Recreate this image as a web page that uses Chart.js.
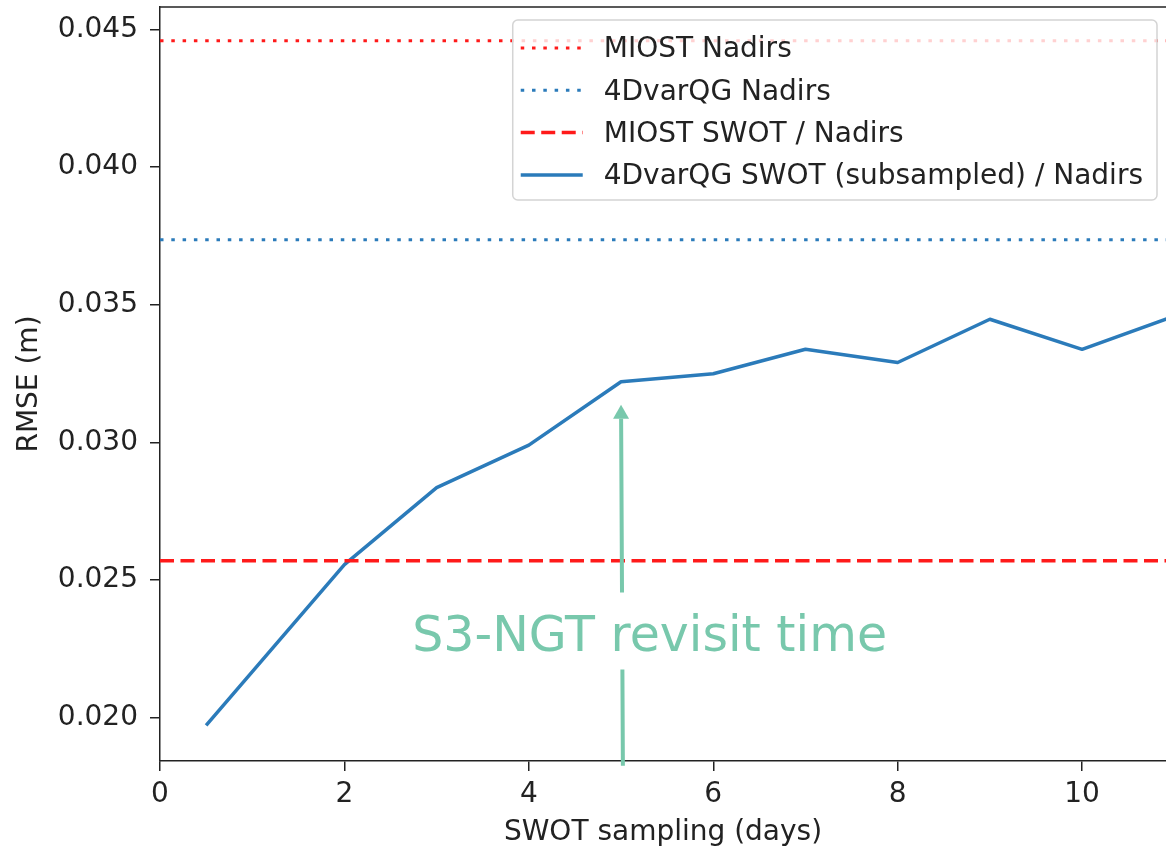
<!DOCTYPE html>
<html lang="en">
<head>
<meta charset="UTF-8">
<title>RMSE vs SWOT sampling</title>
<script src="https://cdn.jsdelivr.net/npm/chart.js"></script>
<style>
  body { margin: 0; background: #fff; }
  canvas { display: block; }
</style>
</head>
<body>
<canvas id="rmseChart" width="1166" height="853"></canvas>
<script>
// SWOT sampling period (days) and the 4DvarQG error for each run
const samplingDays = [0.5, 2, 3, 4, 5, 6, 7, 8, 9, 10, 11];
const rmse4dvarSwot = [0.01972, 0.02556, 0.02836, 0.02990, 0.03220, 0.03249, 0.03338, 0.03290, 0.03447, 0.03338, 0.03458];

// constant reference errors (drawn as horizontal lines)
const rmseMiostNadirs = 0.04458;
const rmse4dvarNadirs = 0.03736;
const rmseMiostSwot = 0.02570;

const seriesLabels = ['MIOST Nadirs', '4DvarQG Nadirs', 'MIOST SWOT / Nadirs', '4DvarQG SWOT (subsampled) / Nadirs'];

const xTicks = [0, 2, 4, 6, 8, 10];
const yTicks = [0.020, 0.025, 0.030, 0.035, 0.040, 0.045];
const xRange = [0, 10.91];
const yRange = [0.01843, 0.04581];

// S3-NGT revisit annotation
const revisitLabel = 'S3-NGT revisit time';
const arrowTail = [5.02, 0.01826];
const arrowTip = [5.0, 0.03137];
const labelAnchor = [5.31, 0.02241];

const FONT = '"DejaVu Sans", sans-serif';
const FONT_SIZE = 28;
const INK = '#222';
const MINT = '#78c8ac';

function hline(v) {
  return [{ x: xRange[0], y: v }, { x: xRange[1] + 1, y: v }];
}

// the boxed legend in the upper right corner
const cornerLegend = {
  id: 'cornerLegend',
  afterDraw(chart) {
    const { ctx, width, chartArea } = chart;
    const sets = chart.data.datasets;
    ctx.save();
    ctx.font = FONT_SIZE + 'px ' + FONT;
    const textW = Math.max(...sets.map(d => ctx.measureText(d.label).width));
    const rowH = 42.3, handleW = 62, handleGap = 21;
    const right = width - 9, top = chartArea.top + 13;
    const left = right - (8 + handleW + handleGap + textW + 14);
    const h = 27 + rowH * (sets.length - 1) + 26;

    ctx.beginPath();
    ctx.roundRect(left, top, right - left, h, 5);
    ctx.fillStyle = 'rgba(255,255,255,0.8)';
    ctx.fill();
    ctx.strokeStyle = '#d4d4d4';
    ctx.lineWidth = 1.5;
    ctx.stroke();

    sets.forEach((d, i) => {
      const cy = top + 28 + i * rowH;
      const hx = left + 8;
      ctx.beginPath();
      ctx.setLineDash(d.borderDash || []);
      ctx.strokeStyle = d.borderColor;
      ctx.lineWidth = d.borderWidth;
      ctx.moveTo(hx, cy);
      ctx.lineTo(hx + handleW, cy);
      ctx.stroke();
      ctx.setLineDash([]);
      ctx.fillStyle = INK;
      ctx.textAlign = 'left';
      ctx.textBaseline = 'middle';
      ctx.fillText(d.label, hx + handleW + handleGap, cy + 2);
    });
    ctx.restore();
  }
};

// top frame line (the right side is cut off)
const topFrame = {
  id: 'topFrame',
  beforeDatasetsDraw(chart) {
    const { ctx, chartArea } = chart;
    ctx.save();
    ctx.strokeStyle = INK;
    ctx.lineWidth = 1.5;
    ctx.beginPath();
    ctx.moveTo(chartArea.left, chartArea.top);
    ctx.lineTo(chartArea.right, chartArea.top);
    ctx.stroke();
    ctx.restore();
  }
};

// arrow and caption marking the S3-NGT revisit time
const revisitArrow = {
  id: 'revisitArrow',
  afterDatasetsDraw(chart) {
    const { ctx, scales: { x, y } } = chart;
    const tx = x.getPixelForValue(arrowTail[0]), ty = y.getPixelForValue(arrowTail[1]);
    const hx = x.getPixelForValue(arrowTip[0]), hy = y.getPixelForValue(arrowTip[1]);
    const lx = x.getPixelForValue(labelAnchor[0]), ly = y.getPixelForValue(labelAnchor[1]);
    const headLen = 14, headHalf = 8;
    const gapBottom = ly + 18, gapTop = ly - 59;
    const xAt = py => tx + (hx - tx) * (ty - py) / (ty - hy);

    ctx.save();
    ctx.strokeStyle = MINT;
    ctx.fillStyle = MINT;
    ctx.lineWidth = 4;
    ctx.beginPath();
    ctx.moveTo(tx, ty);
    ctx.lineTo(xAt(gapBottom), gapBottom);
    ctx.moveTo(xAt(gapTop), gapTop);
    ctx.lineTo(xAt(hy + headLen), hy + headLen);
    ctx.stroke();

    ctx.beginPath();
    ctx.moveTo(hx, hy);
    ctx.lineTo(hx - headHalf, hy + headLen);
    ctx.lineTo(hx + headHalf, hy + headLen);
    ctx.closePath();
    ctx.fill();

    ctx.font = '49px ' + FONT;
    ctx.textAlign = 'center';
    ctx.textBaseline = 'alphabetic';
    ctx.fillText(revisitLabel, lx, ly);
    ctx.restore();
  }
};

Chart.defaults.font.family = FONT;
Chart.defaults.font.size = FONT_SIZE;
Chart.defaults.color = INK;

new Chart(document.getElementById('rmseChart'), {
  type: 'line',
  data: {
    datasets: [
      {
        label: seriesLabels[0],
        data: hline(rmseMiostNadirs),
        borderColor: '#ff1a1a',
        borderWidth: 3,
        borderDash: [3.5, 7.8]
      },
      {
        label: seriesLabels[1],
        data: hline(rmse4dvarNadirs),
        borderColor: '#2b7bba',
        borderWidth: 3,
        borderDash: [3.5, 7.8]
      },
      {
        label: seriesLabels[2],
        data: hline(rmseMiostSwot),
        borderColor: '#ff1a1a',
        borderWidth: 3.5,
        borderDash: [14, 6.5]
      },
      {
        label: seriesLabels[3],
        data: samplingDays.map((d, i) => ({ x: d, y: rmse4dvarSwot[i] })),
        borderColor: '#2b7bba',
        borderWidth: 3.5,
        borderJoinStyle: 'round'
      }
    ]
  },
  options: {
    responsive: false,
    animation: false,
    layout: { padding: { top: 7, right: 0, left: 0, bottom: 0 } },
    elements: { point: { radius: 0 }, line: { tension: 0 } },
    plugins: {
      legend: { display: false },
      tooltip: { enabled: false }
    },
    scales: {
      x: {
        type: 'linear',
        min: xRange[0],
        max: xRange[1],
        afterBuildTicks: s => { s.ticks = xTicks.map(v => ({ value: v })); },
        afterFit: s => { s.height = 92; s.paddingLeft = 0; s.paddingRight = 0; },
        ticks: { padding: 7, includeBounds: false, callback: v => String(v) },
        grid: { drawOnChartArea: false, drawTicks: true, tickLength: 10, color: INK, lineWidth: 1.5 },
        border: { display: true, color: INK, width: 1.5 },
        title: { display: true, text: 'SWOT sampling (days)', padding: { top: 0, bottom: 3 } }
      },
      y: {
        type: 'linear',
        min: yRange[0],
        max: yRange[1],
        afterBuildTicks: s => { s.ticks = yTicks.map(v => ({ value: v })); },
        afterFit: s => { s.width = 160; s.paddingTop = 0; s.paddingBottom = 0; },
        ticks: { padding: 12, includeBounds: false, callback: v => v.toFixed(3) },
        grid: { drawOnChartArea: false, drawTicks: true, tickLength: 10, color: INK, lineWidth: 1.5 },
        border: { display: true, color: INK, width: 1.5 },
        title: { display: true, text: 'RMSE (m)', padding: { top: 13, bottom: 0 } }
      }
    }
  },
  plugins: [topFrame, revisitArrow, cornerLegend]
});
</script>
</body>
</html>
